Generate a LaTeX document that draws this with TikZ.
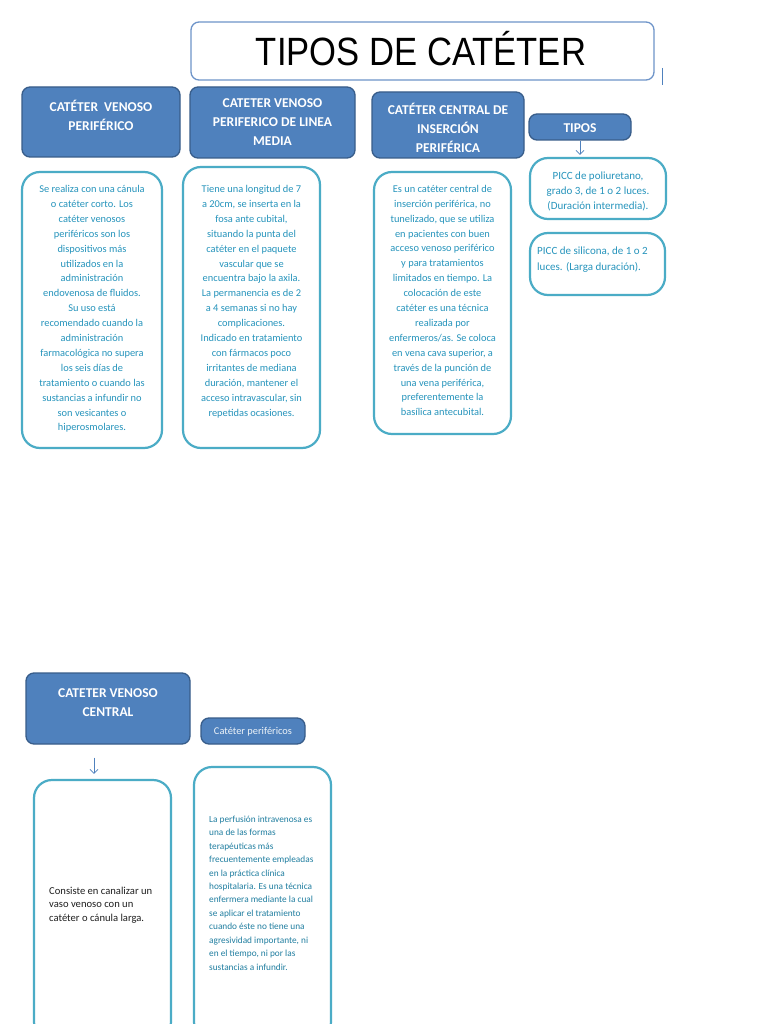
\documentclass[tikz,border=0pt]{standalone}
\usepackage{fontspec}
\usepackage{graphicx}
\usetikzlibrary{arrows.meta}
\setmainfont{Carlito}
\newfontfamily\titlefont{Liberation Sans}
\definecolor{hdrfill}{HTML}{4F81BD}
\definecolor{hdrdraw}{HTML}{385D8A}
\definecolor{aqua}{HTML}{4BACC6}
\definecolor{bodytxt}{RGB}{38,148,188}
\definecolor{titledraw}{HTML}{6E94C9}
\tikzset{
  hdrbox/.style={rectangle, fill=hdrfill, draw=hdrdraw, line width=1.3pt, rounded corners=8pt, inner sep=0pt},
  bodybox/.style={rectangle, draw=aqua, line width=2.2pt, rounded corners=18pt, fill=white, inner sep=0pt},
  htxt/.style={text=white, font=\fontsize{13.5}{19}\selectfont\bfseries, align=center, inner sep=0pt},
  btxt/.style={text=bodytxt, font=\fontsize{10.4}{14.9}\selectfont, align=center, inner sep=0pt},
  ptxt/.style={text=bodytxt, font=\fontsize{11}{15}\selectfont, inner sep=0pt},
  arr/.style={draw=hdrfill, line width=0.8pt, -{Straight Barb[length=4pt,width=8pt]}}
}
\begin{document}
\begin{tikzpicture}[x=1pt,y=-1pt]
\path[use as bounding box] (0,0) rectangle (768,1024);
\clip (0,0) rectangle (768,1024);
\fill[white] (0,0) rectangle (768,1024);

% title
\node[rectangle, draw=titledraw, line width=1.3pt, rounded corners=8pt, minimum width=463pt, minimum height=58pt] (title) at (422.5,51) {};
\node[inner sep=0pt, font=\titlefont\fontsize{34.6}{40}\selectfont] (titletxt) at (421,49) {\scalebox{1}[1.14]{TIPOS DE CATÉTER}};
\coordinate (cur1) at (662,68);
\coordinate (cur2) at (662,85);
\draw[hdrfill, line width=1pt] (cur1) -- (cur2);

% headers
\node[hdrbox, minimum width=158pt, minimum height=70pt] (h1) at (101,122) {};
\node[htxt] (h1t) at (101,115.5) {CATÉTER\ \ VENOSO\\PERIFÉRICO};
\node[hdrbox, minimum width=165pt, minimum height=71pt] (h2) at (272.5,122.5) {};
\node[htxt] (h2t) at (272.5,122) {CATETER VENOSO\\PERIFERICO DE LINEA\\MEDIA};
\node[hdrbox, minimum width=152pt, minimum height=66pt] (h3) at (448,125) {};
\node[htxt] (h3t) at (448,127.5) {CATÉTER CENTRAL DE\\INSERCIÓN\\PERIFÉRICA};
\node[hdrbox, minimum width=102pt, minimum height=26pt] (tipos) at (580,127) {};
\node[htxt] (tipost) at (580,128) {TIPOS};

% body boxes row 1
\node[bodybox, minimum width=140pt, minimum height=276pt] (b1) at (92,310) {};
\node[btxt] (b1t) at (92,309) {Se realiza con una cánula\\o catéter corto. Los\\catéter venosos\\periféricos son los\\dispositivos más\\utilizados en la\\administración\\endovenosa de fluidos.\\Su uso está\\recomendado cuando la\\administración\\farmacológica no supera\\los seis días de\\tratamiento o cuando las\\sustancias a infundir no\\son vesicantes o\\hiperosmolares.};
\node[bodybox, minimum width=137pt, minimum height=281pt] (b2) at (251.5,307.5) {};
\node[btxt] (b2t) at (251.5,301.5) {Tiene una longitud de 7\\a 20cm, se inserta en la\\fosa ante cubital,\\situando la punta del\\catéter en el paquete\\vascular que se\\encuentra bajo la axila.\\La permanencia es de 2\\a 4 semanas si no hay\\complicaciones.\\Indicado en tratamiento\\con fármacos poco\\irritantes de mediana\\duración, mantener el\\acceso intravascular, sin\\repetidas ocasiones.};
\node[bodybox, minimum width=137pt, minimum height=262pt] (b3) at (442.5,303) {};
\node[btxt] (b3t) at (442.5,300.5) {Es un catéter central de\\inserción periférica, no\\tunelizado, que se utiliza\\en pacientes con buen\\acceso venoso periférico\\y para tratamientos\\limitados en tiempo. La\\colocación de este\\catéter es una técnica\\realizada por\\enfermeros/as. Se coloca\\en vena cava superior, a\\través de la punción de\\una vena periférica,\\preferentemente la\\basílica antecubital.};

% PICC boxes
\node[bodybox, minimum width=136pt, minimum height=61pt] (p1) at (598,188.5) {};
\node[ptxt, align=center] (p1t) at (598,191) {PICC de poliuretano,\\grado 3, de 1 o 2 luces.\\(Duración intermedia).};
\node[bodybox, minimum width=135pt, minimum height=62pt] (p2) at (597.5,264) {};
\node[ptxt, align=left, anchor=west, font=\fontsize{11}{16}\selectfont] (p2t) at (537,259.5) {PICC de silicona, de 1 o 2\\luces. (Larga duración).};
\draw[arr, shorten >=2pt] (tipos.south) -- (tipos.south |- p1.north);

% lower part
\node[hdrbox, minimum width=164pt, minimum height=71pt] (h4) at (108,708.5) {};
\node[htxt] (h4t) at (108,703) {CATETER VENOSO\\CENTRAL};
\node[hdrbox, minimum width=104pt, minimum height=26pt] (cp) at (253,731) {};
\node[text=white!90!hdrfill, font=\fontsize{10.4}{12}\selectfont, inner sep=0pt] (cpt) at (253,731.5) {Catéter periféricos};

\node[bodybox, minimum width=137pt, minimum height=260pt] (b4) at (102.5,910) {};
\node[text=black!88, font=\fontsize{10.6}{13.4}\selectfont, align=left, anchor=west, inner sep=0pt] (b4t) at (49,905) {Consiste en canalizar un\\vaso venoso con un\\catéter o cánula larga.};
\draw[arr] ([xshift=-14pt,yshift=-13pt]h4.south) -- ([xshift=-8.5pt,yshift=5pt]b4.north);

\node[bodybox, minimum width=137pt, minimum height=273pt] (b5) at (262.5,903.5) {};
\node[text=bodytxt!85!black, font=\fontsize{9.3}{13.45}\selectfont, align=left, anchor=west, inner sep=0pt] (b5t) at (209,893) {La perfusión intravenosa es\\una de las formas\\terapéuticas más\\frecuentemente empleadas\\en la práctica clínica\\hospitalaria. Es una técnica\\enfermera mediante la cual\\se aplicar el tratamiento\\cuando éste no tiene una\\agresividad importante, ni\\en el tiempo, ni por las\\sustancias a infundir.};
\end{tikzpicture}
\end{document}
